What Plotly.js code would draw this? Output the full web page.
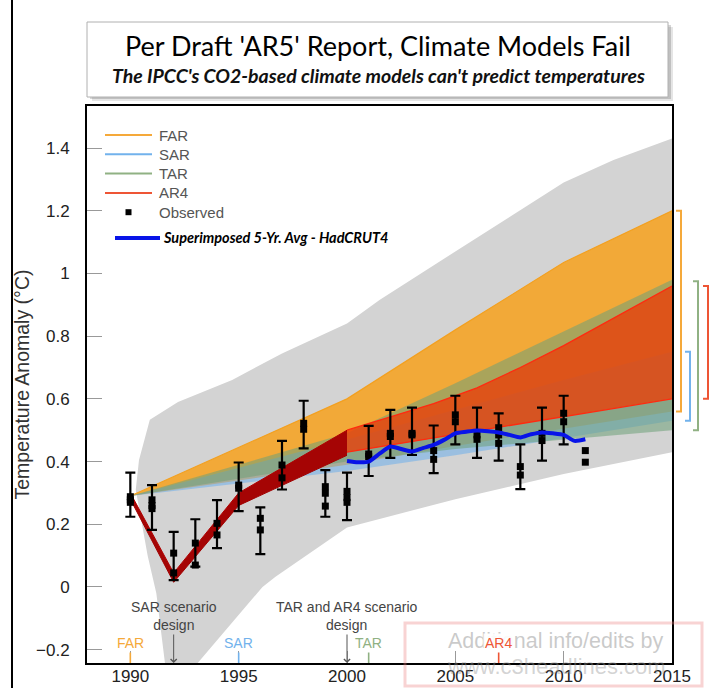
<!DOCTYPE html>
<html><head><meta charset="utf-8">
<script src="https://cdn.plot.ly/plotly-3.0.1.min.js"></script>
<style>html,body{margin:0;padding:0;background:#fff;}#chart{width:711px;height:688px;}</style>
</head><body><div id="chart"></div>
<script>
// ---------------- data ----------------
const xTickVals = [1990, 1995, 2000, 2005, 2010, 2015];
const yTickVals = [-0.2, 0, 0.2, 0.4, 0.6, 0.8, 1, 1.2, 1.4];
const yTickText = ['\u22120.2', '0', '0.2', '0.4', '0.6', '0.8', '1', '1.2', '1.4'];

// grey envelope outline
const greyX = [1990.9, 1992.2, 1994.7, 1997.0, 2000.0, 2001.5, 2005.0, 2010.0, 2012.3, 2015.0, 2015.0, 2010.0, 2005.0, 2000.0, 1996.7, 1996.1, 1992.4, 1991.7, 1991.2, 1990.8, 1990.25, 1990.4, 1990.9];
const greyY = [0.533, 0.59, 0.66, 0.745, 0.84, 0.915, 1.07, 1.29, 1.362, 1.43, 0.43, 0.36, 0.28, 0.19, 0.033, 0.0, -0.30, -0.30, -0.02, 0.10, 0.31, 0.405, 0.533];

// model projection ranges
const bandYears = [1990, 1995, 2000, 2005, 2010, 2015];
const farLow  = [0.29, 0.34, 0.39, 0.45, 0.505, 0.56];
const farHigh = [0.29, 0.445, 0.60, 0.82, 1.035, 1.20];
const sarLow  = [0.29, 0.33, 0.37, 0.42, 0.475, 0.53];
const sarHigh = [0.29, 0.38, 0.47, 0.565, 0.66, 0.75];
const tarLow  = [0.29, 0.345, 0.40, 0.44, 0.47, 0.50];
const tarHigh = [0.29, 0.39, 0.49, 0.65, 0.815, 0.98];

const ar4HistYears = [1990, 1992, 1995, 2000];
const ar4HistLow   = [0.28, 0.015, 0.26, 0.42];
const ar4HistHigh  = [0.30, 0.045, 0.30, 0.50];

const ar4Years = [2000, 2002, 2004, 2006, 2008, 2010, 2012, 2015];
const ar4Low   = [0.43, 0.453, 0.475, 0.498, 0.521, 0.543, 0.566, 0.60];
const ar4High  = [0.50, 0.542, 0.585, 0.635, 0.70, 0.77, 0.845, 0.96];

// observations
const obsYears = [1990, 1991, 1992, 1993, 1994, 1995, 1996, 1997, 1998, 1999, 2000, 2001, 2002, 2003, 2004, 2005, 2006, 2007, 2008, 2009, 2010, 2011];
const obsA = [0.288, 0.278, 0.108, 0.14, 0.203, 0.325, 0.219, 0.389, 0.522, 0.32, 0.305, 0.424, 0.49, 0.49, 0.435, 0.549, 0.485, 0.508, 0.384, 0.49, 0.554, 0.435];
const obsB = [0.278, 0.25, 0.045, 0.07, 0.166, 0.315, 0.182, 0.348, 0.503, 0.299, 0.285, 0.416, 0.48, 0.485, 0.407, 0.527, 0.471, 0.485, 0.357, 0.467, 0.527, 0.398];
const obsC = [0.27, 0.26, null, null, null, null, null, null, null, 0.258, 0.27, null, null, null, null, null, null, 0.458, null, null, null, null];
const obsBarHi = [0.365, 0.325, 0.176, 0.216, 0.277, 0.397, 0.254, 0.466, 0.594, 0.373, 0.365, 0.514, 0.565, 0.572, 0.515, 0.61, 0.572, 0.554, 0.455, 0.572, 0.61, null];
const obsBarLo = [0.224, 0.182, 0.022, 0.065, 0.124, 0.242, 0.105, 0.311, 0.442, 0.224, 0.213, 0.354, 0.412, 0.421, 0.363, 0.455, 0.412, 0.403, 0.312, 0.403, 0.455, null];

// HadCRUT4 5-yr average (superimposed)
const hadYears = [2000.0, 2000.5, 2001.0, 2001.5, 2002.0, 2002.5, 2003.0, 2003.5, 2004.0, 2004.5, 2005.0, 2005.5, 2006.0, 2006.5, 2007.0, 2007.5, 2008.0, 2008.5, 2009.0, 2009.5, 2010.0, 2010.5, 2011.0];
const had5yr   = [0.402, 0.398, 0.400, 0.425, 0.448, 0.440, 0.432, 0.443, 0.453, 0.470, 0.490, 0.495, 0.499, 0.497, 0.493, 0.485, 0.477, 0.487, 0.493, 0.490, 0.485, 0.466, 0.471];

// brackets at the right (range in 2015)
const bracketNames = ['FAR', 'SAR', 'TAR', 'AR4'];
const bracketLo = [0.56, 0.53, 0.50, 0.60];
const bracketHi = [1.20, 0.75, 0.975, 0.96];

// report markers on the x axis
const reportNames = ['FAR', 'SAR', 'TAR', 'AR4'];
const reportYears = [1990, 1995, 2001, 2007];
const designLabels = ['SAR scenario<br>design', 'TAR and AR4 scenario<br>design'];
const designYears = [1992, 2000];

// legend labels
const legendNames = ['FAR', 'SAR', 'TAR', 'AR4', 'Observed'];
const avgLabel = 'Superimposed 5-Yr. Avg - HadCRUT4';

// ---------------- styling ----------------
const W = 711, H = 688, ML = 87, MR = 39, MT = 106, MB = 25;
const yMin = -0.2424, yMax = 1.534;
const PW = W - ML - MR, PH = H - MT - MB;
const px = x => (x - ML) / PW;        // pixel -> paper x
const py = y => (H - MB - y) / PH;    // pixel -> paper y
const vy = v => (v - yMin) / (yMax - yMin); // value -> paper y

const cFAR = '#f5a93a', cSAR = '#72b2ec', cTAR = '#90b183', cAR4 = '#ee5535', cAvg = '#0814e8';
const F = 'Arial, "Liberation Sans", sans-serif';

function band(xs, lo, hi, fill, loLine, hiLine) {
  return [
    {x: xs, y: lo, mode: 'lines', line: loLine || {width: 0}, hoverinfo: 'skip'},
    {x: xs, y: hi, mode: 'lines', fill: 'tonexty', fillcolor: fill, line: hiLine || {width: 0}, hoverinfo: 'skip'}
  ];
}

const traces = [];
traces.push({x: greyX, y: greyY, mode: 'lines', fill: 'toself', fillcolor: '#d3d3d3', line: {width: 0}, hoverinfo: 'skip'});
traces.push(...band(bandYears, farLow, farHigh, 'rgba(246,163,34,0.88)', {width: 0}, {color: '#f3a020', width: 1.2}));
traces.push(...band(bandYears, sarLow, sarHigh, 'rgba(110,175,235,0.55)'));
traces.push(...band(bandYears, tarLow, tarHigh, 'rgba(110,160,120,0.55)'));
traces.push(...band(ar4Years, ar4Low, ar4High, 'rgba(232,66,12,0.82)', {color: '#ff2a10', width: 1.3}, {color: '#ff2a10', width: 1.3}));
traces.push(...band(ar4HistYears, ar4HistLow, ar4HistHigh, 'rgb(165,4,4)', {color: '#a00000', width: 1}, {color: '#b00000', width: 1}));

// error bars
const barMid = obsBarHi.map((h, i) => h == null ? null : (h + obsBarLo[i]) / 2);
const barHalf = obsBarHi.map((h, i) => h == null ? null : (h - obsBarLo[i]) / 2);
traces.push({x: obsYears, y: barMid, mode: 'markers', marker: {size: 1, opacity: 0}, hoverinfo: 'skip',
  error_y: {type: 'data', array: barHalf, visible: true, color: '#000', thickness: 2.2, width: 5}});
[obsA, obsB, obsC].forEach(arr => {
  traces.push({x: obsYears, y: arr, mode: 'markers', marker: {symbol: 'square', size: 7, color: '#000'}, name: 'Observed'});
});
traces.push({x: hadYears, y: had5yr, mode: 'lines', line: {color: cAvg, width: 4, shape: 'spline', smoothing: 0.6}, name: avgLabel});

// ---------------- shapes ----------------
const shapes = [];
// outer frame line at the left
shapes.push({type: 'line', xref: 'paper', yref: 'paper', x0: px(12), x1: px(12), y0: py(0), y1: py(H), line: {color: '#000', width: 2}});
// title box with shadow
shapes.push({type: 'rect', xref: 'paper', yref: 'paper', x0: px(92), x1: px(673), y0: py(101), y1: py(27), fillcolor: 'rgba(0,0,0,0.10)', line: {width: 0}});
shapes.push({type: 'rect', xref: 'paper', yref: 'paper', x0: px(90), x1: px(671), y0: py(99), y1: py(25), fillcolor: 'rgba(0,0,0,0.16)', line: {width: 0}});
shapes.push({type: 'rect', xref: 'paper', yref: 'paper', x0: px(87), x1: px(668), y0: py(97), y1: py(22), fillcolor: '#fff', line: {color: '#b0b0b0', width: 1}});
// brackets
const bracketX = [681, 690, 698, 708];
const bracketC = [cFAR, cSAR, cTAR, cAR4];
bracketNames.forEach((n, i) => {
  const x1 = px(bracketX[i]), x0 = px(bracketX[i] - 5);
  const y0 = vy(bracketLo[i]), y1 = vy(bracketHi[i]);
  shapes.push({type: 'path', xref: 'paper', yref: 'paper',
    path: `M${x0},${y1} L${x1},${y1} L${x1},${y0} L${x0},${y0}`, line: {color: bracketC[i], width: 2}});
});
// watermark box
shapes.push({type: 'rect', xref: 'paper', yref: 'paper', x0: px(405), x1: px(702), y0: py(686), y1: py(623), line: {color: 'rgba(235,130,130,0.35)', width: 3}, layer: 'above'});

// manual legend
const legColors = [cFAR, cSAR, cTAR, cAR4];
const legTop = 135, legStep = 19.3;
const annotations = [];
legendNames.forEach((n, i) => {
  const yy = legTop + i * legStep;
  if (i < 4) {
    shapes.push({type: 'line', xref: 'paper', yref: 'paper', x0: px(105), x1: px(152), y0: py(yy), y1: py(yy), line: {color: legColors[i], width: 2}, layer: 'above'});
  } else {
    shapes.push({type: 'rect', xref: 'paper', yref: 'paper', x0: px(125.5), x1: px(131.5), y0: py(yy + 3), y1: py(yy - 3), fillcolor: '#000', line: {width: 0}, layer: 'above'});
  }
  annotations.push({xref: 'paper', yref: 'paper', x: px(157), y: py(yy), xanchor: 'left', yanchor: 'middle', text: n, showarrow: false,
    font: {family: F, size: 15, color: '#555'}});
});
shapes.push({type: 'line', xref: 'paper', yref: 'paper', x0: px(115), x1: px(160), y0: py(238), y1: py(238), line: {color: cAvg, width: 4}, layer: 'above'});
annotations.push({xref: 'paper', yref: 'paper', x: px(161), y: py(238), xanchor: 'left', yanchor: 'middle', text: '<b><i>' + avgLabel + '</i></b>', showarrow: false,
  font: {family: 'Lato, sans-serif', size: 14.5, color: '#000'}});

// ---------------- annotations ----------------
annotations.push({xref: 'paper', yref: 'paper', x: px(378), y: py(75), text: "<b><i>The IPCC's CO2-based climate models can't predict temperatures</i></b>",
  showarrow: false, font: {family: 'Lato, sans-serif', size: 19.5, color: '#111'}, xanchor: 'center', yanchor: 'middle'});
designLabels.forEach((t, i) => {
  annotations.push({x: designYears[i], y: yMin, xref: 'x', yref: 'y', text: t, showarrow: true, ax: 0, ay: -47,
    arrowhead: 4, arrowsize: 1.2, arrowwidth: 1, arrowcolor: '#555', font: {family: F, size: 14, color: '#444'}});
});
// watermark text
annotations.push({xref: 'paper', yref: 'paper', x: px(555), y: py(641), xanchor: 'center', yanchor: 'middle', text: 'Additional info/edits by', showarrow: false,
  font: {family: F, size: 21.5, color: 'rgba(150,150,150,0.5)'}});
annotations.push({xref: 'paper', yref: 'paper', x: px(556), y: py(666), xanchor: 'center', yanchor: 'middle', text: 'www.c3headlines.com', showarrow: false,
  font: {family: F, size: 22, color: 'rgba(150,150,150,0.42)'}});
const reportC = [cFAR, cSAR, cTAR, cAR4];
reportNames.forEach((t, i) => {
  annotations.push({x: reportYears[i], y: yMin, xref: 'x', yref: 'y', text: t, showarrow: true, ax: 0, ay: -20,
    arrowhead: 0, arrowwidth: 1.6, arrowcolor: reportC[i], font: {family: F, size: 14, color: reportC[i]},
    bgcolor: t === 'AR4' ? 'rgba(255,255,255,0.9)' : 'rgba(0,0,0,0)'});
});

const layout = {
  width: W, height: H,
  margin: {l: ML, r: MR, t: MT, b: MB, pad: 0},
  paper_bgcolor: '#fff', plot_bgcolor: '#fff',
  font: {family: F, color: '#222'},
  showlegend: false,
  title: {text: "Per Draft 'AR5' Report, Climate Models Fail", font: {family: 'Lato, sans-serif', size: 27, color: '#000'},
    xref: 'container', yref: 'container', x: 378 / W, y: 1 - 47 / H, xanchor: 'center', yanchor: 'middle'},
  xaxis: {range: [1988, 2015], tickvals: xTickVals, ticks: 'inside', ticklen: 12, tickcolor: '#999', tickwidth: 1,
    showline: true, mirror: true, linecolor: '#000', linewidth: 2, showgrid: false, zeroline: false,
    tickfont: {family: F, size: 17, color: '#222'}, ticklabelstandoff: -3},
  yaxis: {range: [yMin, yMax], tickvals: yTickVals, ticktext: yTickText, ticks: 'inside', ticklen: 15, tickcolor: '#999', tickwidth: 1,
    showline: true, mirror: true, linecolor: '#000', linewidth: 2, showgrid: false, zeroline: false,
    tickfont: {family: F, size: 17, color: '#222'}, ticklabelstandoff: 12,
    title: {text: 'Temperature Anomaly (\u00b0C)', font: {family: F, size: 19.5, color: '#333'}, standoff: 1}},
  shapes: shapes, annotations: annotations
};

Plotly.newPlot('chart', traces, layout, {displayModeBar: false, staticPlot: true});
</script></body></html>
